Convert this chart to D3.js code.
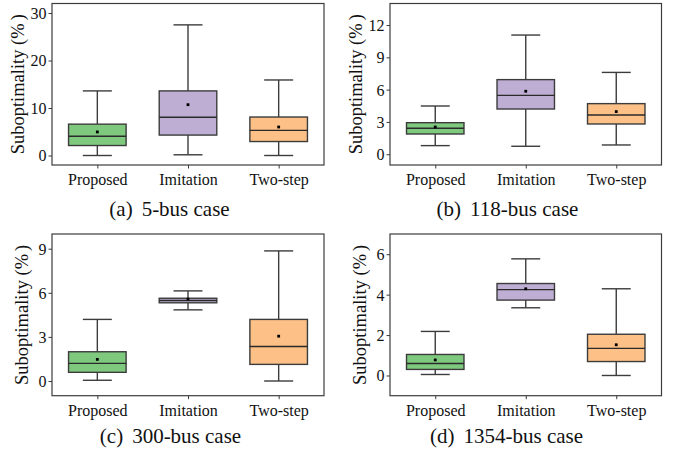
<!DOCTYPE html>
<html>
<head>
<meta charset="utf-8">
<script src="https://cdn.jsdelivr.net/npm/d3@7"></script>
<style>
  html, body { margin: 0; padding: 0; background: #fff; }
  svg { display: block; }
  text { font-family: "Liberation Serif", "Times New Roman", serif; fill: #111; }
</style>
</head>
<body>
<svg id="chart" width="677" height="455"></svg>
<script>
// ---- data ----
const categories = ["Proposed", "Imitation", "Two-step"];
const colors = ["#7fc97f", "#beaed4", "#fdc086"];
// each row: [whiskerLow, q1, median, q3, whiskerHigh, mean]
const bus5    = [[0.0, 2.1, 4.05, 6.6, 13.6, 4.96], [0.15, 4.3, 8.05, 13.6, 27.5, 10.7], [0.0, 2.94, 5.3, 8.1, 15.9, 6.0]];
const bus118  = [[0.8, 1.88, 2.41, 2.93, 4.48, 2.53], [0.74, 4.2, 5.47, 6.93, 11.07, 5.85], [0.86, 2.81, 3.65, 4.7, 7.6, 3.96]];
const bus300  = [[0.05, 0.59, 1.2, 1.99, 4.19, 1.47], [4.84, 5.32, 5.48, 5.63, 6.13, 5.57], [0.0, 1.13, 2.35, 4.19, 8.85, 3.05]];
const bus1354 = [[0.05, 0.3, 0.59, 1.04, 2.18, 0.77], [3.35, 3.73, 4.25, 4.55, 5.77, 4.29], [0.0, 0.69, 1.34, 2.04, 4.29, 1.52]];
const ticks5 = [0, 10, 20, 30];
const ticks118 = [0, 3, 6, 9, 12];
const ticks300 = [0, 3, 6, 9];
const ticks1354 = [0, 2, 4, 6];
const domain5 = [-2, 32];
const domain118 = [-1, 14];
const domain300 = [-1, 10];
const domain1354 = [-1, 7];
const captionLetters = ["(a)", "(b)", "(c)", "(d)"];
const captionCases = ["5-bus case", "118-bus case", "300-bus case", "1354-bus case"];
const yLabel = "Suboptimality (%)";

// ---- layout ----
const panels = [
  { stats: bus5,    ticks: ticks5,    domain: domain5,    x0: 52,  x1: 324,   y0: 3.5, y1: 165,   cx: 169.5 },
  { stats: bus118,  ticks: ticks118,  domain: domain118,  x0: 390, x1: 661.5, y0: 3.5, y1: 165,   cx: 507.5 },
  { stats: bus300,  ticks: ticks300,  domain: domain300,  x0: 52,  x1: 324,   y0: 234, y1: 395.7, cx: 170.5 },
  { stats: bus1354, ticks: ticks1354, domain: domain1354, x0: 390, x1: 661.5, y0: 234, y1: 395.7, cx: 506.5 }
];
const captionY = [216, 216, 443, 443];

const svg = d3.select("#chart");
const lineColor = "#3c3c3c";

panels.forEach((p, i) => {
  const g = svg.append("g");
  const x = d3.scalePoint().domain(categories).range([p.x0, p.x1]).padding(0.5);
  const y = d3.scaleLinear().domain(p.domain).range([p.y1, p.y0]);
  const step = x.step();
  const bw = step * 0.635;
  const cw = step * 0.32;

  // axes
  const yAxis = d3.axisLeft(y).tickValues(p.ticks).tickSize(3.5).tickPadding(2).tickFormat(d3.format("d"));
  const ya = g.append("g").attr("transform", `translate(${p.x0},0)`).call(yAxis);
  const xAxis = d3.axisBottom(x).tickSize(3.5).tickPadding(5);
  const xa = g.append("g").attr("transform", `translate(0,${p.y1})`).call(xAxis);
  [ya, xa].forEach(a => {
    a.select(".domain").remove();
    a.selectAll(".tick line").attr("stroke", lineColor).attr("stroke-width", 1);
    a.selectAll(".tick text").attr("fill", "#111").style("font-size", "16px")
      .style("font-family", '"Liberation Serif", "Times New Roman", serif');
  });
  ya.selectAll(".tick text").attr("dy", "0.34em");
  xa.selectAll(".tick text").attr("dy", "0.71em");

  // boxes
  const bx = g.append("g");
  p.stats.forEach((s, k) => {
    const c = x(categories[k]);
    const [lo, q1, med, q3, hi, mean] = s;
    const gg = bx.append("g");
    gg.append("line").attr("x1", c).attr("x2", c).attr("y1", y(lo)).attr("y2", y(q1))
      .attr("stroke", lineColor).attr("stroke-width", 1.4);
    gg.append("line").attr("x1", c).attr("x2", c).attr("y1", y(q3)).attr("y2", y(hi))
      .attr("stroke", lineColor).attr("stroke-width", 1.4);
    gg.append("line").attr("x1", c - cw / 2).attr("x2", c + cw / 2).attr("y1", y(lo)).attr("y2", y(lo))
      .attr("stroke", lineColor).attr("stroke-width", 1.4);
    gg.append("line").attr("x1", c - cw / 2).attr("x2", c + cw / 2).attr("y1", y(hi)).attr("y2", y(hi))
      .attr("stroke", lineColor).attr("stroke-width", 1.4);
    gg.append("rect").attr("x", c - bw / 2).attr("width", bw)
      .attr("y", y(q3)).attr("height", y(q1) - y(q3))
      .attr("fill", colors[k]).attr("stroke", lineColor).attr("stroke-width", 1.4);
    gg.append("line").attr("x1", c - bw / 2).attr("x2", c + bw / 2).attr("y1", y(med)).attr("y2", y(med))
      .attr("stroke", "#2a2a2a").attr("stroke-width", 1.4);
    gg.append("rect").attr("x", c - 1.4).attr("y", y(mean) - 1.4).attr("width", 2.8).attr("height", 2.8)
      .attr("fill", "#000");
  });

  // frame
  g.append("rect").attr("x", p.x0).attr("y", p.y0).attr("width", p.x1 - p.x0).attr("height", p.y1 - p.y0)
    .attr("fill", "none").attr("stroke", lineColor).attr("stroke-width", 1.2);

  // y label
  const maxDigits = d3.max(p.ticks, t => String(t).length);
  const lx = p.x0 - (26 + 4 * maxDigits);
  const ly = (p.y0 + p.y1) / 2;
  const lt = g.append("text").attr("transform", `translate(${lx},${ly}) rotate(-90)`)
    .attr("text-anchor", "middle").attr("dy", "0.35em").style("font-size", "18.5px");
  lt.append("tspan").text(yLabel.slice(0, -1));
  lt.append("tspan").attr("dx", 3).text(yLabel.slice(-1));

  // caption
  const ct = svg.append("text").attr("x", p.cx).attr("y", captionY[i]).attr("text-anchor", "middle")
    .style("font-size", "21px");
  ct.append("tspan").text(captionLetters[i]);
  ct.append("tspan").attr("dx", 9).text(captionCases[i]);
});
</script>
</body>
</html>
